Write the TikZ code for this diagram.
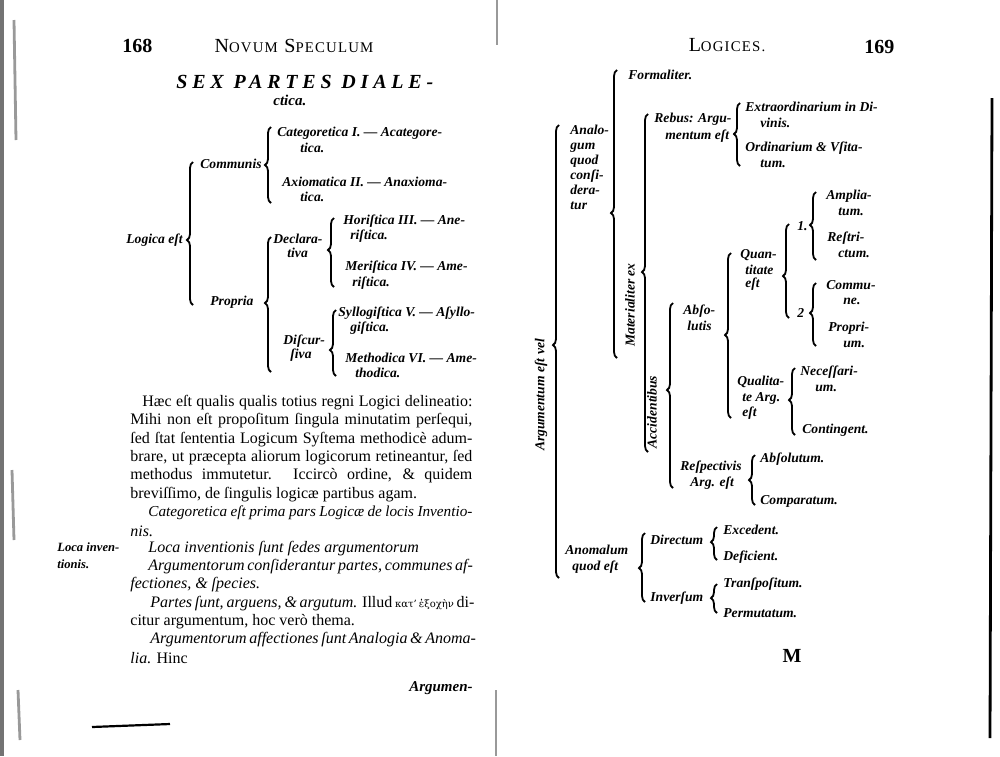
\documentclass[tikz,border=0pt]{standalone}
\usepackage{fontspec}
\setmainfont{Liberation Serif}
\newfontfamily\grk{DejaVu Serif}
\usetikzlibrary{decorations.pathreplacing}

\newcommand\lowcap[2]{#1{\fontsize{7.4}{8}\selectfont#2}}

\begin{document}
\begin{tikzpicture}[
  x=0.5pt,y=-0.5pt,
  lab/.style={font=\fontsize{6.8}{8}\selectfont\bfseries\itshape,anchor=west,inner sep=0pt},
  txt/.style={font=\fontsize{8}{9}\selectfont,anchor=west,inner sep=0pt},
  hdr/.style={font=\fontsize{10}{11}\selectfont\addfontfeature{LetterSpace=8},inner sep=0pt},
  brc/.style={decorate,decoration={brace,amplitude=3pt,aspect=#1},line width=0.9pt},
  scan/.style={black!40,line width=0.6pt}
]
\useasboundingbox (0,0) rectangle (1000,756);

% left page
\node[hdr,anchor=west,font=\fontsize{10}{11}\selectfont\bfseries] (p168) at (122,46) {168};
\node[hdr] (hdl) at (294,46) {\lowcap{N}{OVUM} \lowcap{S}{PECULUM}};
\node[inner sep=0pt,anchor=west,font=\fontsize{10}{11}\selectfont\bfseries\itshape\addfontfeature{LetterSpace=24}] (ttl) at (176,82) {SEX PARTES DIALE-};
\node[lab,font=\fontsize{7.5}{9}\selectfont\bfseries\itshape] (ttl2) at (273,100) {ctica.};

\node[lab] (lg) at (126,240) {Logica eſt};
\node[lab] (cm) at (200,164) {Communis};
\node[lab] (ct1) at (277,133) {Categoretica I. — Acategore-};
\node[lab] (ct2) at (300,148) {tica.};
\node[lab] (ax1) at (282,182) {Axiomatica II. — Anaxioma-};
\node[lab] (ax2) at (300,197) {tica.};
\node[lab] (pr) at (210,302) {Propria};
\node[lab] (dl1) at (273,239) {Declara-};
\node[lab] (dl2) at (287,253) {tiva};
\node[lab] (ho1) at (343,221) {Horiſtica III. — Ane-};
\node[lab] (ho2) at (350,236) {riſtica.};
\node[lab] (me1) at (345,267) {Meriſtica IV. — Ame-};
\node[lab] (me2) at (352,283) {riſtica.};
\node[lab] (dsc1) at (283,341) {Diſcur-};
\node[lab] (dsc2) at (290,355) {ſiva};
\node[lab] (sy1) at (338,313) {Syllogiſtica V. — Aſyllo-};
\node[lab] (sy2) at (350,328) {giſtica.};
\node[lab] (mt1) at (345,358) {Methodica VI. — Ame-};
\node[lab] (mt2) at (355,373) {thodica.};

\foreach \y/\x/\w/\t in {
  403/142/165pt/{Hæc eſt qualis qualis totius regni Logici delineatio:},
  421/130/171pt/{Mihi non eſt propoſitum ſingula minutatim perſequi,},
  440/130/171pt/{ſed ſtat ſententia Logicum Syſtema methodicè adum-},
  458/130/171pt/{brare, ut præcepta aliorum logicorum retineantur, ſed},
  476/130/171pt/{methodus immutetur. Iccircò ordine, \& quidem},
  513/148/162pt/{\fontsize{7.6}{9}\selectfont\itshape Categoretica eſt prima pars Logicæ de locis Inventio-},
  567/148/162pt/{\itshape Argumentorum conſiderantur partes, communes af-},
  604/150/161pt/{\textit{Partes ſunt, arguens, \& argutum.} Illud {\grk\fontsize{5}{6}\selectfont κατ’ ἐξοχὴν} di-},
  640/150/161pt/{\itshape Argumentorum affectiones ſunt Analogia \& Anoma-}}
{
  \node[txt] (b\y) at (\x,\y) {\makebox[\w][s]{\t}};
}
\foreach \y/\x/\t in {
  495/130/{breviſſimo, de ſingulis logicæ partibus agam.},
  531/130/{\itshape nis.},
  549/148/{\itshape Loca inventionis ſunt ſedes argumentorum},
  585/130/{\itshape fectiones, \& ſpecies.},
  622/130/{citur argumentum, hoc verò thema.},
  658/130/{\textit{lia.} Hinc}}
{
  \node[txt] (b\y) at (\x,\y) {\t};
}
\node[txt,anchor=east,font=\fontsize{7.5}{8}\selectfont\bfseries\itshape] (cw) at (473,688) {Argumen-};
\node[lab,font=\fontsize{6.3}{7}\selectfont\bfseries\itshape] (mg1) at (57,547) {Loca inven-};
\node[lab,font=\fontsize{6.3}{7}\selectfont\bfseries\itshape] (mg2) at (57,564) {tionis.};

% right page
\node[hdr] (hdr) at (727,45) {\lowcap{L}{OGICES.}};
\node[hdr,anchor=west,font=\fontsize{10}{11}\selectfont\bfseries] (p169) at (864,47) {169};

\node[lab,rotate=90,anchor=center] (av) at (541,395) {Argumentum eſt vel};
\node[lab,align=left,anchor=north west,font=\fontsize{6.8}{7.5}\selectfont\bfseries\itshape] (an) at (570,125) {Analo-\\gum\\quod\\conſi-\\dera-\\tur};
\node[lab] (fm) at (628,75) {Formaliter.};
\node[lab,rotate=90,anchor=center] (mat) at (630,305) {Materialiter ex};
\node[lab] (rb1) at (654,119) {Rebus: Argu-};
\node[lab] (rb2) at (665,136) {mentum eſt};
\node[lab] (ex1) at (745,107) {Extraordinarium in Di-};
\node[lab] (ex2) at (760,123) {vinis.};
\node[lab] (or1) at (745,148) {Ordinarium \& Vſita-};
\node[lab] (or2) at (760,164) {tum.};
\node[lab,rotate=90,anchor=center] (acc) at (652,412) {Accidentibus};
\node[lab] (ab1) at (683,311) {Abſo-};
\node[lab] (ab2) at (687,326) {lutis};
\node[lab] (qn1) at (740,255) {Quan-};
\node[lab] (qn2) at (745,270) {titate};
\node[lab] (qn3) at (745,284) {eſt};
\node[lab] (n1) at (797,226) {1.};
\node[lab] (n2) at (797,313) {2};
\node[lab] (amp1) at (826,196) {Amplia-};
\node[lab] (amp2) at (838,212) {tum.};
\node[lab] (rst1) at (827,238) {Reſtri-};
\node[lab] (rst2) at (838,254) {ctum.};
\node[lab] (cmu1) at (826,285) {Commu-};
\node[lab] (cmu2) at (843,301) {ne.};
\node[lab] (prp1) at (828,328) {Propri-};
\node[lab] (prp2) at (843,344) {um.};
\node[lab] (ql1) at (737,382) {Qualita-};
\node[lab] (ql2) at (742,398) {te Arg.};
\node[lab] (ql3) at (742,413) {eſt};
\node[lab] (nec1) at (800,372) {Neceſſari-};
\node[lab] (nec2) at (815,388) {um.};
\node[lab] (cnt) at (802,430) {Contingent.};
\node[lab] (rs1) at (680,467) {Reſpectivis};
\node[lab] (rs2) at (690,483) {Arg. eſt};
\node[lab] (abs) at (760,459) {Abſolutum.};
\node[lab] (cmp) at (760,501) {Comparatum.};
\node[lab] (anm1) at (565,550) {Anomalum};
\node[lab] (anm2) at (572,567) {quod eſt};
\node[lab] (dir) at (650,540) {Directum};
\node[lab] (exc) at (723,530) {Excedent.};
\node[lab] (dfc) at (723,557) {Deficient.};
\node[lab] (inv) at (650,598) {Inverſum};
\node[lab] (trn) at (723,584) {Tranſpoſitum.};
\node[lab] (pmt) at (723,613) {Permutatum.};
\node[txt,anchor=center,font=\fontsize{10}{11}\selectfont\bfseries] (sig) at (792,656) {M};

\foreach \n/\x/\t/\p/\b in {
  lgb/190/162/240/305, cmb/268/127/165/203, prb/268/237/303/372,
  dlb/331/218/250/287, dsb/333/310/350/376,
  avb/556/125/345/578, anb/614/70/213/358, mab/645/114/272/452,
  rbb/737/103/134/166, acb/670/303/390/488, abb/728/253/335/418,
  qnb/786/224/276/318, o1b/813/192/225/260, o2b/813/283/313/346,
  qlb/792/368/400/435, rsb/752/455/480/505, amb/642/533/568/602,
  dib/714/527/542/560, ivb/714/584/598/613}
{
  \pgfmathsetmacro\asp{(\b-\p)/(\b-\t)}
  \coordinate (\n-t) at (\x+3,\t);
  \coordinate (\n-b) at (\x+3,\b);
  \draw[brc=\asp] (\n-b) -- (\n-t);
}

% scan edges
\fill[black!55] (0,0) rectangle (4,756);
\draw[scan,line width=1.4pt] (14,20) -- (16,140) (12,470) -- (14,540) (18,690) -- (20,740);
\draw[scan] (497,0) -- (497,45) (496,690) -- (496,756);
\draw[line width=1.4pt] (992,98) -- (990,738);
\draw[line width=1.1pt] (92,727) -- (170,724);
\end{tikzpicture}
\end{document}
